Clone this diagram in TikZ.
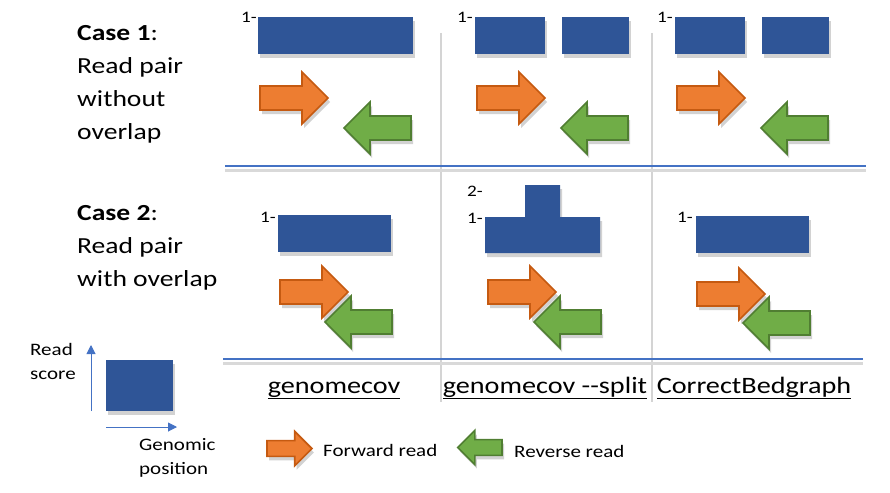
\documentclass[tikz,border=0pt]{standalone}
\usepackage{fontspec}
\setmainfont{Carlito}[FakeStretch=1.2]
\usetikzlibrary{shadows,arrows.meta}
\definecolor{barblue}{HTML}{2F5597}
\definecolor{lineblue}{HTML}{4472C4}
\definecolor{fwdfill}{HTML}{ED7D31}
\definecolor{fwdedge}{HTML}{C55A11}
\definecolor{revfill}{HTML}{70AD47}
\definecolor{revedge}{HTML}{507E32}
\definecolor{sepgray}{HTML}{D4D4D4}

\tikzset{
  softshadow/.style={drop shadow={shadow xshift=2pt,shadow yshift=-4pt,opacity=0.25,fill=black!70}},
  bar/.style={fill=barblue,draw=none,inner sep=0pt,softshadow},
  fwdread/.style={fill=fwdfill,draw=fwdedge,line width=1.6pt,softshadow},
  revread/.style={fill=revfill,draw=revedge,line width=1.6pt,softshadow},
  sepline/.style={sepgray,line width=2.5pt},
  caseline/.style={lineblue,line width=2pt,preaction={draw=black!15,line width=3pt,transform canvas={yshift=-4pt}}},
  casetext/.style={font=\fontsize{23}{33}\selectfont,align=left,inner sep=0pt,anchor=north west},
  toollabel/.style={font=\fontsize{23.5}{28}\selectfont,inner sep=0pt,anchor=base},
  tick/.style={font=\fontsize{16}{18}\selectfont,inner sep=0pt,anchor=base east},
  legendtext/.style={font=\fontsize{17.5}{24}\selectfont,align=left,inner sep=0pt}
}

% forward read: left end x, centre y
\newcommand{\forwardread}[3][1]{%
  \draw[fwdread,shift={(#2,#3)},scale=#1] (0,-12) -- (42,-12) -- (42,-26) -- (68,0)
    -- (42,26) -- (42,12) -- (0,12) -- cycle;}
% reverse read: right end x, centre y
\newcommand{\reverseread}[3][1]{%
  \draw[revread,shift={(#2,#3)},scale=#1] (0,-12) -- (-41,-12) -- (-41,-26) -- (-67,0)
    -- (-41,26) -- (-41,12) -- (0,12) -- cycle;}

\begin{document}
\begin{tikzpicture}[x=1pt,y=-1pt]
  \useasboundingbox (0,0) rectangle (890,492);

  % separators
  \draw[sepline] (441,33) -- (441,402);
  \draw[sepline] (652,33) -- (652,402);
  \draw[caseline] (225,166) -- (866,166);
  \draw[caseline] (223,359) -- (863,359);

  % case texts
  \node[casetext] (case1) at (77,25) {\textbf{Case 1}:\\Read pair\\without\\overlap};
  \node[casetext] (case2) at (77,205) {\textbf{Case 2}:\\Read pair\\with overlap};

  % case 1 coverage
  \node[bar,minimum width=155,minimum height=37] (c1a) at (335.5,35.5) {};
  \node[bar,minimum width=70,minimum height=37] (c1b) at (510,35.5) {};
  \node[bar,minimum width=67,minimum height=37] (c1c) at (595.5,35.5) {};
  \node[bar,minimum width=70,minimum height=37] (c1d) at (710,36) {};
  \node[bar,minimum width=67,minimum height=37] (c1e) at (795.5,36) {};
  \node[tick] at (257,23) {1-};
  \node[tick] at (473,23) {1-};
  \node[tick] at (673,23) {1-};

  % case 1 reads
  \forwardread{260}{98}
  \reverseread{411}{128}
  \forwardread{477}{98}
  \reverseread{628}{128}
  \forwardread{677}{98}
  \reverseread{828}{128}

  % case 2 coverage
  \node[bar,minimum width=113,minimum height=37] (c2a) at (334.5,233.5) {};
  \draw[bar] (485,253) -- (485,217) -- (525,217) -- (525,185) -- (560,185)
    -- (560,217) -- (600,217) -- (600,253) -- cycle;
  \node[bar,minimum width=113,minimum height=37] (c2c) at (752.5,234.5) {};
  \node[tick] at (276,222) {1-};
  \node[tick] at (483,196) {2-};
  \node[tick] at (483,223) {1-};
  \node[tick] at (693,222) {1-};

  % case 2 reads
  \forwardread{280}{292}
  \reverseread{392}{322}
  \forwardread{488}{292}
  \reverseread{601}{322}
  \forwardread{697}{294}
  \reverseread{810}{323}

  % tool names
  \node[toollabel] (tool1) at (334,393) {\underline{genomecov}};
  \node[toollabel] (tool2) at (545,393) {\underline{genomecov {-}{-}split}};
  \node[toollabel] (tool3) at (754,393) {\underline{CorrectBedgraph}};

  % legend
  \coordinate (ybot) at (91,411);
  \coordinate (ytop) at (91,345);
  \coordinate (xleft) at (106,427);
  \coordinate (xright) at (177,427);
  \draw[lineblue,line width=1pt,-{Triangle[length=9pt,width=9pt]}] (ybot) -- (ytop);
  \draw[lineblue,line width=1pt,-{Triangle[length=9pt,width=9pt]}] (xleft) -- (xright);
  \node[bar,minimum width=67,minimum height=51] (legbar) at (139.5,385.5) {};
  \node[legendtext,anchor=north west] (score) at (30,343) {Read\\score};
  \node[legendtext,anchor=north west] (genpos) at (139,438) {Genomic\\position};
  \forwardread[0.66]{267}{448.5}
  \node[legendtext,anchor=base west] (fwdlabel) at (323,456) {Forward read};
  \reverseread[0.66]{502}{447.5}
  \node[legendtext,anchor=base west] (revlabel) at (514,457) {Reverse read};
\end{tikzpicture}
\end{document}
